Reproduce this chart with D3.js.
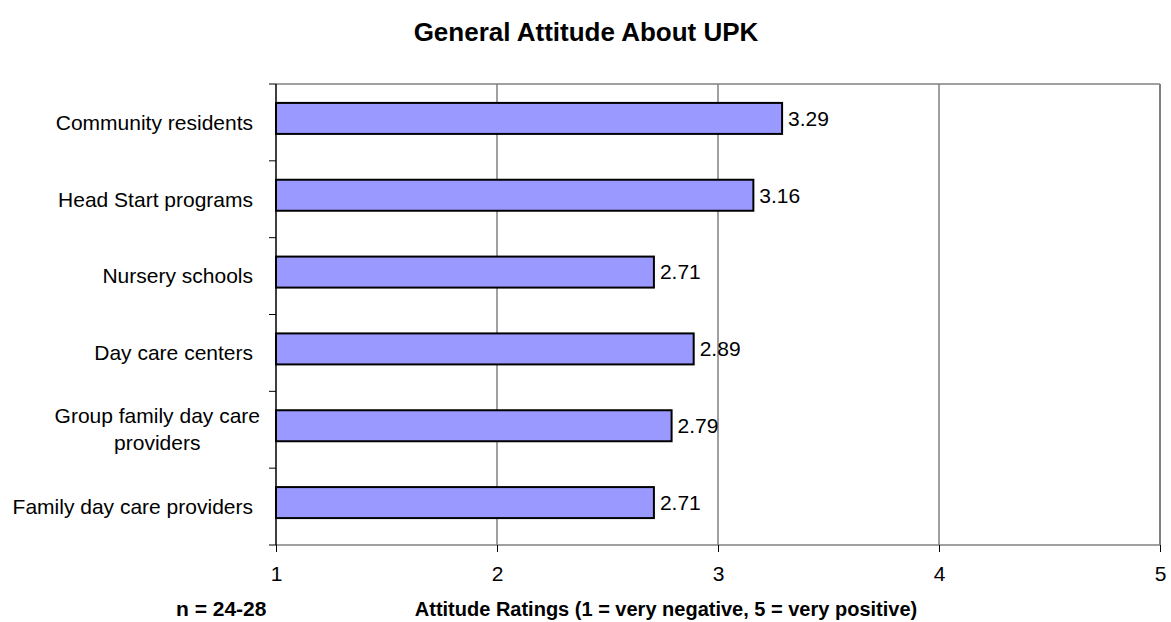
<!DOCTYPE html>
<html>
<head>
<meta charset="utf-8">
<script src="https://cdn.jsdelivr.net/npm/d3@7"></script>
<style>
  html, body { margin: 0; padding: 0; background: #fff; }
  svg { display: block; font-family: "Liberation Sans", Arial, sans-serif; }
</style>
</head>
<body>
<svg id="chart" width="1171" height="622"></svg>
<script>
const categories = [
  "Community residents",
  "Head Start programs",
  "Nursery schools",
  "Day care centers",
  "Group family day care providers",
  "Family day care providers"
];
const values = [3.29, 3.16, 2.71, 2.89, 2.79, 2.71];
const xTicks = [1, 2, 3, 4, 5];
const titleText = "General Attitude About UPK";
const xAxisTitle = "Attitude Ratings (1 = very negative, 5 = very positive)";
const noteText = "n = 24-28";

const svg = d3.select("#chart");
const margin = { left: 276, right: 11, top: 84, bottom: 77 };
const W = 1171, H = 622;
const x0 = margin.left, x1 = W - margin.right;
const y0 = margin.top, y1 = H - margin.bottom;

const x = d3.scaleLinear().domain([1, 5]).range([x0, x1]);
const y = d3.scaleBand().domain(categories).range([y0, y1]).padding(0);
const barH = 31;

// gridlines
svg.append("g").selectAll("line").data(xTicks.slice(1)).join("line")
  .attr("x1", d => x(d)).attr("x2", d => x(d))
  .attr("y1", y0).attr("y2", y1)
  .attr("stroke", "#808080").attr("stroke-width", 1.5);

// top border
svg.append("line").attr("x1", x0).attr("x2", x1).attr("y1", y0).attr("y2", y0)
  .attr("stroke", "#808080").attr("stroke-width", 1.5);
// right border
svg.append("line").attr("x1", x1).attr("x2", x1).attr("y1", y0).attr("y2", y1)
  .attr("stroke", "#808080").attr("stroke-width", 2);

// bars
const data = categories.map((c, i) => ({ c, v: values[i] }));
svg.append("g").selectAll("rect").data(data).join("rect")
  .attr("x", x(1))
  .attr("y", d => y(d.c) + (y.bandwidth() - barH) / 2 - 4)
  .attr("width", d => x(d.v) - x(1))
  .attr("height", barH)
  .attr("fill", "#9999FF")
  .attr("stroke", "#000").attr("stroke-width", 2);

// value labels
svg.append("g").selectAll("text").data(data).join("text")
  .attr("x", d => x(d.v) + 6)
  .attr("y", d => y(d.c) + y.bandwidth() / 2 - 4)
  .attr("dy", "0.35em")
  .attr("font-size", 21)
  .attr("fill", "#000")
  .text(d => d.v.toFixed(2));

// x axis
const xAxis = d3.axisBottom(x).tickValues(xTicks).tickSize(7).tickPadding(14)
  .tickFormat(d3.format("d"));
const gx = svg.append("g").attr("transform", `translate(0,${y1})`).call(xAxis);
gx.select(".domain").attr("stroke", "#808080").attr("stroke-width", 1.5)
  .attr("d", `M${x0},0H${x1}`);
gx.selectAll(".tick line").attr("stroke", "#000").attr("stroke-width", 1);
gx.selectAll(".tick text").attr("font-size", 21).attr("font-family", "Liberation Sans, Arial, sans-serif").attr("fill", "#000");

// y axis
const tickPositions = categories.map(c => y(c)).concat([y1]);
svg.append("g").selectAll("line").data(tickPositions).join("line")
  .attr("x1", x0 - 7).attr("x2", x0)
  .attr("y1", d => d).attr("y2", d => d)
  .attr("stroke", "#000").attr("stroke-width", 1);
svg.append("line").attr("x1", x0).attr("x2", x0).attr("y1", y0).attr("y2", y1)
  .attr("stroke", "#000").attr("stroke-width", 1.5);

// category labels
const labelRight = 253;
const wrapMap = { "Group family day care providers": ["Group family day care", "providers"] };
const lg = svg.append("g").attr("font-size", 21).attr("fill", "#000");
data.forEach(d => {
  const cy = y(d.c) + y.bandwidth() / 2;
  const lines = wrapMap[d.c];
  if (!lines) {
    lg.append("text").attr("x", labelRight).attr("y", cy).attr("dy", "0.35em")
      .attr("text-anchor", "end").text(d.c);
  } else {
    const t = lg.append("text").attr("text-anchor", "middle");
    const tmp = lg.append("text").text(lines[0]);
    const w = tmp.node().getComputedTextLength();
    tmp.remove();
    const cx = labelRight + 7 - w / 2;
    const lh = 27;
    lines.forEach((ln, i) => {
      t.append("tspan").attr("x", cx)
        .attr("y", cy - 1 + (i - (lines.length - 1) / 2) * lh)
        .attr("dy", "0.35em").text(ln);
    });
  }
});

// title
svg.append("text").attr("x", 586).attr("y", 41).attr("text-anchor", "middle")
  .attr("font-size", 26).attr("font-weight", "bold").text(titleText);

// bottom notes
svg.append("text").attr("x", 176).attr("y", 616).attr("font-size", 21)
  .attr("font-weight", "bold").text(noteText);
svg.append("text").attr("x", 666).attr("y", 616).attr("text-anchor", "middle")
  .attr("font-size", 20).attr("font-weight", "bold").text(xAxisTitle);
</script>
</body>
</html>
